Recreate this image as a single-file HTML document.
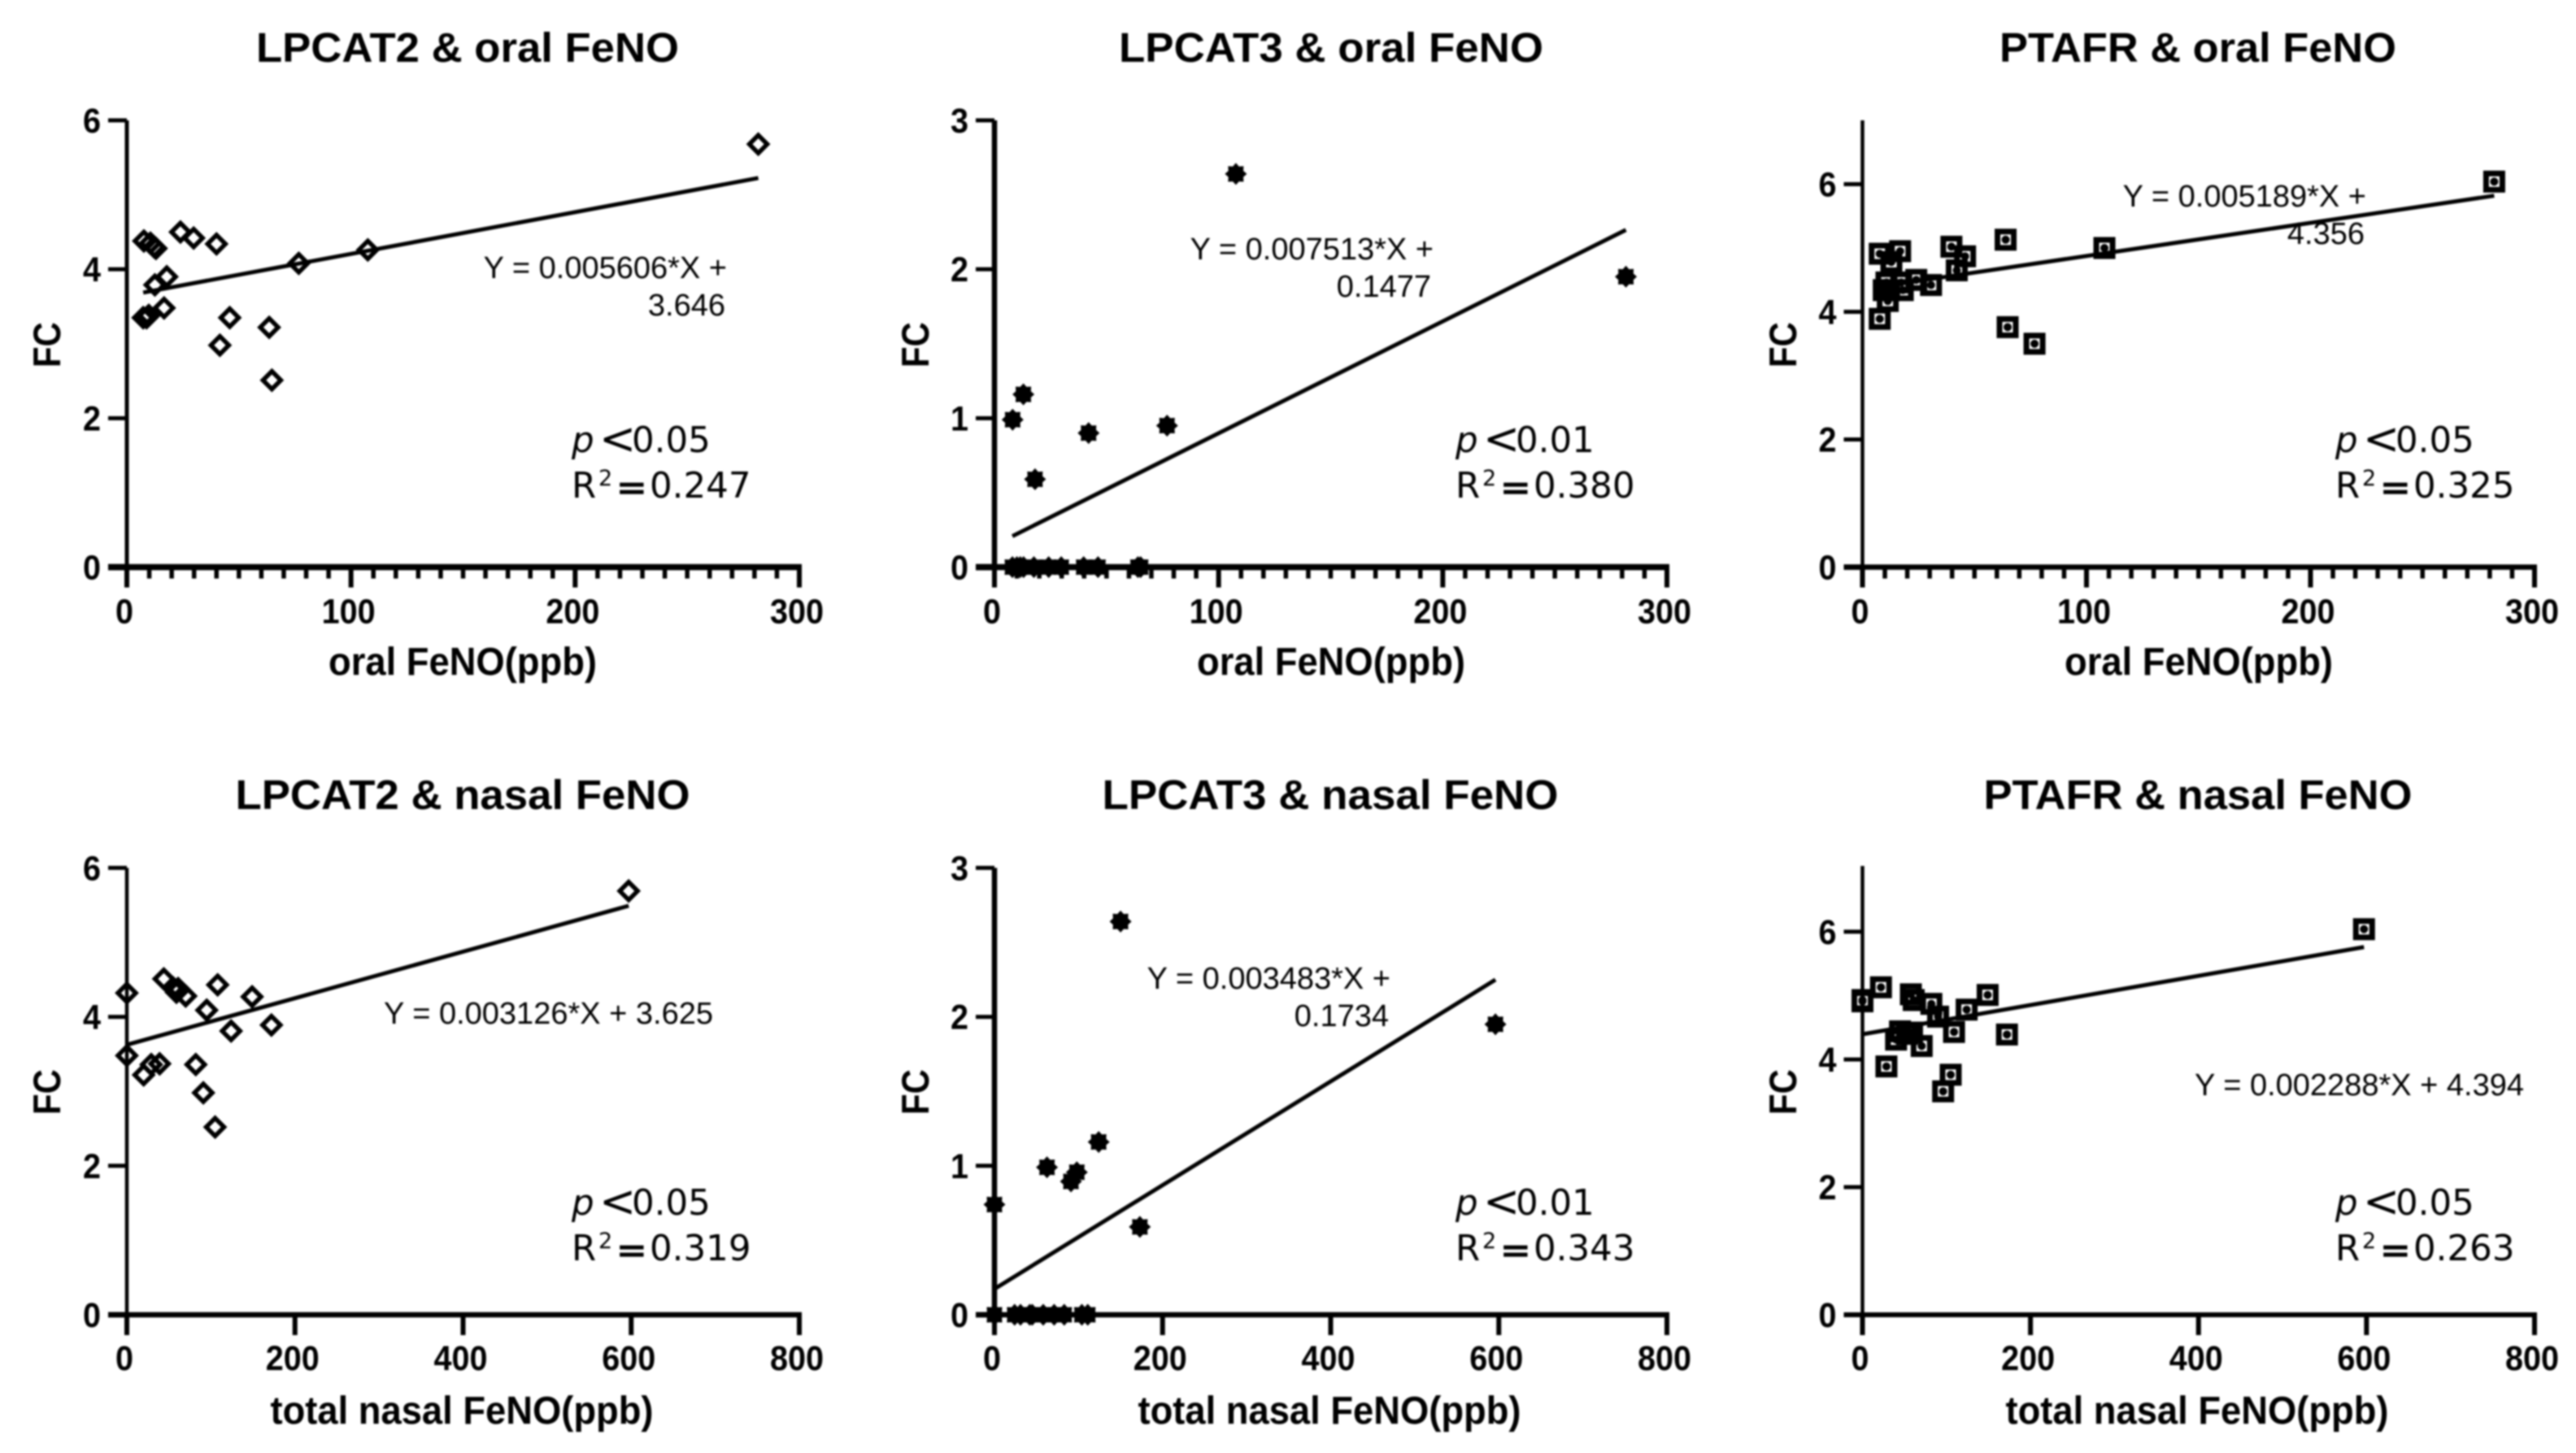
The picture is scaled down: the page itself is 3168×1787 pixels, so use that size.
<!DOCTYPE html>
<html lang="en">
<head>
<meta charset="utf-8">
<title>FC versus FeNO scatter panels</title>
<style>
html,body{margin:0;padding:0;background:#fff;width:3168px;height:1787px;overflow:hidden}
svg{display:block;filter:blur(1px)}
text{fill:#000;font-family:"Liberation Sans",sans-serif}
.title{font-size:51px;font-weight:700;text-anchor:middle}
.xt{font-size:48px;font-weight:700;text-anchor:middle}
.yt{font-size:47px;font-weight:700;text-anchor:middle}
.tick{font-size:43px;font-weight:700}
.eq{font-size:38px;text-anchor:end}
.stat{font-family:"DejaVu Sans","Noto Sans CJK JP",sans-serif;font-size:43.5px}
.stat-sup{font-size:27px}
.stat-lt{font-size:54px}
.stat-eq{font-size:45px;stroke:#000;stroke-width:1.2px}
</style>
</head>
<body>
<svg id="figure" width="3168" height="1787" viewBox="0 0 3168 1787" xmlns="http://www.w3.org/2000/svg">
<rect x="0" y="0" width="3168" height="1787" fill="#fff"/>

<g id="p1">
<text class="title" x="575" y="76" textLength="520" lengthAdjust="spacingAndGlyphs">LPCAT2 &amp; oral FeNO</text>
<text class="xt" x="569" y="830" textLength="330" lengthAdjust="spacingAndGlyphs">oral FeNO(ppb)</text>
<text class="yt" transform="translate(74 424) rotate(-90)" textLength="56" lengthAdjust="spacingAndGlyphs">FC</text>
<text class="eq"><tspan x="894" y="342">Y = 0.005606*X +</tspan><tspan x="892" y="388">3.646</tspan></text>
<text class="stat"><tspan x="703" y="556" font-style="italic">p</tspan><tspan class="stat-lt" x="737" y="558">&lt;</tspan><tspan x="777" y="556">0.05</tspan></text>
<text class="stat"><tspan x="703" y="612">R</tspan><tspan class="stat-sup" x="736" y="597">2</tspan><tspan class="stat-eq" x="758" y="615">=</tspan><tspan x="799" y="612">0.247</tspan></text>
</g>

<g id="p2">
<text class="title" x="1637" y="76" textLength="522" lengthAdjust="spacingAndGlyphs">LPCAT3 &amp; oral FeNO</text>
<text class="xt" x="1637" y="830" textLength="330" lengthAdjust="spacingAndGlyphs">oral FeNO(ppb)</text>
<text class="yt" transform="translate(1142 424) rotate(-90)" textLength="56" lengthAdjust="spacingAndGlyphs">FC</text>
<text class="eq"><tspan x="1763" y="319">Y = 0.007513*X +</tspan><tspan x="1760" y="365">0.1477</tspan></text>
<text class="stat"><tspan x="1790" y="556" font-style="italic">p</tspan><tspan class="stat-lt" x="1824" y="558">&lt;</tspan><tspan x="1864" y="556">0.01</tspan></text>
<text class="stat"><tspan x="1790" y="612">R</tspan><tspan class="stat-sup" x="1823" y="597">2</tspan><tspan class="stat-eq" x="1845" y="615">=</tspan><tspan x="1886" y="612">0.380</tspan></text>
</g>

<g id="p3">
<text class="title" x="2703" y="76" textLength="488" lengthAdjust="spacingAndGlyphs">PTAFR &amp; oral FeNO</text>
<text class="xt" x="2704" y="830" textLength="330" lengthAdjust="spacingAndGlyphs">oral FeNO(ppb)</text>
<text class="yt" transform="translate(2209 424) rotate(-90)" textLength="56" lengthAdjust="spacingAndGlyphs">FC</text>
<text class="eq"><tspan x="2910" y="254">Y = 0.005189*X +</tspan><tspan x="2908" y="300">4.356</tspan></text>
<text class="stat"><tspan x="2872" y="556" font-style="italic">p</tspan><tspan class="stat-lt" x="2906" y="558">&lt;</tspan><tspan x="2946" y="556">0.05</tspan></text>
<text class="stat"><tspan x="2872" y="612">R</tspan><tspan class="stat-sup" x="2905" y="597">2</tspan><tspan class="stat-eq" x="2927" y="615">=</tspan><tspan x="2968" y="612">0.325</tspan></text>
</g>

<g id="p4">
<text class="title" x="569" y="995" textLength="559" lengthAdjust="spacingAndGlyphs">LPCAT2 &amp; nasal FeNO</text>
<text class="xt" x="568" y="1751" textLength="471" lengthAdjust="spacingAndGlyphs">total nasal FeNO(ppb)</text>
<text class="yt" transform="translate(74 1343) rotate(-90)" textLength="56" lengthAdjust="spacingAndGlyphs">FC</text>
<text class="eq" x="877" y="1259">Y = 0.003126*X + 3.625</text>
<text class="stat"><tspan x="703" y="1494" font-style="italic">p</tspan><tspan class="stat-lt" x="737" y="1496">&lt;</tspan><tspan x="777" y="1494">0.05</tspan></text>
<text class="stat"><tspan x="703" y="1550">R</tspan><tspan class="stat-sup" x="736" y="1535">2</tspan><tspan class="stat-eq" x="758" y="1553">=</tspan><tspan x="799" y="1550">0.319</tspan></text>
</g>

<g id="p5">
<text class="title" x="1636" y="995" textLength="561" lengthAdjust="spacingAndGlyphs">LPCAT3 &amp; nasal FeNO</text>
<text class="xt" x="1635" y="1751" textLength="471" lengthAdjust="spacingAndGlyphs">total nasal FeNO(ppb)</text>
<text class="yt" transform="translate(1142 1343) rotate(-90)" textLength="56" lengthAdjust="spacingAndGlyphs">FC</text>
<text class="eq"><tspan x="1710" y="1216">Y = 0.003483*X +</tspan><tspan x="1708" y="1262">0.1734</tspan></text>
<text class="stat"><tspan x="1790" y="1494" font-style="italic">p</tspan><tspan class="stat-lt" x="1824" y="1496">&lt;</tspan><tspan x="1864" y="1494">0.01</tspan></text>
<text class="stat"><tspan x="1790" y="1550">R</tspan><tspan class="stat-sup" x="1823" y="1535">2</tspan><tspan class="stat-eq" x="1845" y="1553">=</tspan><tspan x="1886" y="1550">0.343</tspan></text>
</g>

<g id="p6">
<text class="title" x="2703" y="995" textLength="527" lengthAdjust="spacingAndGlyphs">PTAFR &amp; nasal FeNO</text>
<text class="xt" x="2702" y="1751" textLength="471" lengthAdjust="spacingAndGlyphs">total nasal FeNO(ppb)</text>
<text class="yt" transform="translate(2209 1343) rotate(-90)" textLength="56" lengthAdjust="spacingAndGlyphs">FC</text>
<text class="eq" x="3104" y="1347">Y = 0.002288*X + 4.394</text>
<text class="stat"><tspan x="2872" y="1494" font-style="italic">p</tspan><tspan class="stat-lt" x="2906" y="1496">&lt;</tspan><tspan x="2946" y="1494">0.05</tspan></text>
<text class="stat"><tspan x="2872" y="1550">R</tspan><tspan class="stat-sup" x="2905" y="1535">2</tspan><tspan class="stat-eq" x="2927" y="1553">=</tspan><tspan x="2968" y="1550">0.263</tspan></text>
</g>
</svg>

<script>
// ---- data ----
const xTicksOral = [0, 100, 200, 300];
const xTicksNasal = [0, 200, 400, 600, 800];
const yTicksLpcat2 = [0, 2, 4, 6];
const yTicksLpcat3 = [0, 1, 2, 3];
const yTicksPtafr = [0, 2, 4, 6];

const lpcat2OralX = [7.6, 10.5, 12.2, 13, 23.9, 29.8, 40, 76.7, 107.5, 281.7, 17.8, 12.5, 16.6, 7.3, 8.8, 9.8, 45.9, 41.5, 63.5, 64.7];
const lpcat2OralY = [4.38, 4.35, 4.30, 4.28, 4.50, 4.42, 4.34, 4.08, 4.26, 5.68, 3.90, 3.79, 3.48, 3.35, 3.35, 3.38, 3.35, 2.98, 3.22, 2.51];
const lpcat2OralFit = [0.005606, 3.646];

const lpcat3OralX = [8.1, 12.9, 18.1, 42, 77, 107.7, 281.7, 8, 10, 11.5, 13, 17.6, 24.2, 29.8, 39.8, 46.2, 64, 65.2];
const lpcat3OralY = [0.99, 1.16, 0.59, 0.90, 0.95, 2.64, 1.95, 0, 0, 0, 0, 0, 0, 0, 0, 0, 0, 0];
const lpcat3OralFit = [0.007513, 0.1477];

const ptafrOralX = [7.7, 16.8, 12.9, 39.7, 45.8, 42.1, 63.9, 108, 282, 7.7, 64.8, 76.8, 10.7, 17.3, 24, 30.6, 9.5, 11.9, 18, 11.3];
const ptafrOralY = [4.91, 4.95, 4.78, 5.02, 4.87, 4.65, 5.13, 5.0, 6.04, 3.89, 3.76, 3.50, 4.46, 4.46, 4.50, 4.42, 4.34, 4.34, 4.34, 4.17];
const ptafrOralFit = [0.005189, 4.356];

const lpcat2NasalX = [0, 0, 20, 29, 39, 44, 55, 59, 61, 70, 82, 91, 95, 105, 108, 124, 149, 172, 597];
const lpcat2NasalY = [4.32, 3.48, 3.22, 3.36, 3.37, 4.51, 4.39, 4.33, 4.38, 4.28, 3.36, 2.98, 4.09, 2.52, 4.43, 3.81, 4.27, 3.89, 5.69];
const lpcat2NasalFit = [0.003126, 3.625];

const lpcat3NasalX = [0, 62.5, 91, 98, 124, 150, 173, 596, 0, 24, 31, 42, 45, 58, 71, 83, 104, 111];
const lpcat3NasalY = [0.74, 0.99, 0.895, 0.957, 1.16, 2.64, 0.59, 1.95, 0, 0, 0, 0, 0, 0, 0, 0, 0, 0];
const lpcat3NasalFit = [0.003483, 0.1734];

const ptafrNasalX = [0, 0, 22, 57.6, 61, 82, 90, 109, 124, 149, 172, 44.7, 40, 59, 53, 70.5, 28.5, 105, 96, 597];
const ptafrNasalY = [4.91, 4.93, 5.13, 5.02, 4.93, 4.87, 4.67, 4.43, 4.78, 5.01, 4.39, 4.44, 4.31, 4.42, 4.40, 4.21, 3.89, 3.76, 3.50, 6.04];
const ptafrNasalFit = [0.002288, 4.394];

// ---- drawing ----
const NS = 'http://www.w3.org/2000/svg';
function make(tag, parent, attrs) {
  const el = document.createElementNS(NS, tag);
  for (const k in attrs) el.setAttribute(k, attrs[k]);
  parent.appendChild(el);
  return el;
}

function starPath(cx, cy) {
  let d = '';
  for (let i = 0; i < 16; i++) {
    const r = i % 2 ? 10 : 13.5;
    const a = Math.PI * i / 8;
    d += (i ? 'L' : 'M') + (cx + r * Math.cos(a)).toFixed(1) + ' ' + (cy + r * Math.sin(a)).toFixed(1);
  }
  return d + 'Z';
}

function drawMarker(g, kind, cx, cy) {
  if (kind === 'diamond') {
    const h = 11;
    const m = make('path', g, {d: `M${cx} ${cy - h}L${cx + h} ${cy}L${cx} ${cy + h}L${cx - h} ${cy}Z`, fill: 'none', stroke: '#000', 'stroke-width': 5.5});
    
    
  } else if (kind === 'star') {
    const m = make('path', g, {d: starPath(cx, cy), fill: '#000'});
    
    
  } else {
    const m = make('rect', g, {x: cx - 10, y: cy - 10, width: 20, height: 20, fill: 'none', stroke: '#000', 'stroke-width': 7});
    
    
    const dot = make('circle', g, {cx: cx, cy: cy, r: 5, fill: '#000'});
    
    
  }
}

function drawPanel(c) {
  const g = document.getElementById(c.id);
  const sx = v => c.x0 + (v / c.xMax) * (c.x1 - c.x0);
  const sy = v => c.y0 - (v / c.yMax) * (c.y0 - c.y1);

  c.yTicks.forEach(v => {
    const t = make('line', g, {x1: c.x0 - 23, x2: c.x0, y1: sy(v), y2: sy(v), stroke: '#000', 'stroke-width': v === 0 ? c.xw : 5});
    
    
    const l = make('text', g, {class: 'tick', x: c.x0 - 32, y: sy(v) + 15, 'text-anchor': 'end', textLength: String(v).length * 22, lengthAdjust: 'spacingAndGlyphs'});
    
    
    l.textContent = v;
  });

  if (c.minor) {
    for (let v = c.minor; v < c.xMax; v += c.minor) {
      if (c.xTicks.indexOf(v) >= 0) continue;
      const t = make('line', g, {x1: sx(v), x2: sx(v), y1: c.y0, y2: c.y0 + 14, stroke: '#000', 'stroke-width': 5.5});
      
      
    }
  }

  c.xTicks.forEach(v => {
    const t = make('line', g, {x1: sx(v), x2: sx(v), y1: c.y0, y2: c.y0 + 25, stroke: '#000', 'stroke-width': 6});
    
    
    const l = make('text', g, {class: 'tick', x: sx(v) - 3, y: c.y0 + c.xLabelDy, 'text-anchor': 'middle', textLength: String(v).length * 22, lengthAdjust: 'spacingAndGlyphs'});
    
    
    l.textContent = v;
  });

  const ya = make('line', g, {x1: c.x0, x2: c.x0, y1: c.y1 - (c.axisExtra || 0), y2: c.y0 + 3, stroke: '#000', 'stroke-width': c.yw});
  
  
  const xa = make('line', g, {x1: c.x0 - 23, x2: c.x1 + 3, y1: c.y0, y2: c.y0, stroke: '#000', 'stroke-width': c.xw});
  
  

  const lo = Math.min.apply(null, c.xs);
  const hi = Math.max.apply(null, c.xs);
  const fit = make('line', g, {
    x1: sx(lo), y1: sy(c.fit[0] * lo + c.fit[1]),
    x2: sx(hi), y2: sy(c.fit[0] * hi + c.fit[1]),
    stroke: '#000', 'stroke-width': 5
  });
  
  

  c.xs.forEach((x, i) => drawMarker(g, c.marker, sx(x), sy(c.ys[i])));
}

const topY0 = 697.5, topY1 = 148, botY0 = 1617, botY1 = 1067.4;

drawPanel({id: 'p1', x0: 156, x1: 983, y0: topY0, y1: topY1, xMax: 300, yMax: 6, xTicks: xTicksOral, yTicks: yTicksLpcat2, minor: 10, xs: lpcat2OralX, ys: lpcat2OralY, fit: lpcat2OralFit, marker: 'diamond', xw: 7.5, yw: 5, xLabelDy: 69});
drawPanel({id: 'p2', x0: 1223, x1: 2050, y0: topY0, y1: topY1, xMax: 300, yMax: 3, xTicks: xTicksOral, yTicks: yTicksLpcat3, minor: 10, xs: lpcat3OralX, ys: lpcat3OralY, fit: lpcat3OralFit, marker: 'star', xw: 7.5, yw: 6.5, xLabelDy: 69});
drawPanel({id: 'p3', x0: 2290.5, x1: 3117, y0: topY0, y1: topY1, xMax: 300, yMax: 7, xTicks: xTicksOral, yTicks: yTicksPtafr, minor: 10, xs: ptafrOralX, ys: ptafrOralY, fit: ptafrOralFit, marker: 'square', xw: 6.5, yw: 4.5, xLabelDy: 69});
drawPanel({id: 'p4', x0: 156, x1: 983, y0: botY0, y1: botY1, xMax: 800, yMax: 6, xTicks: xTicksNasal, yTicks: yTicksLpcat2, minor: 0, xs: lpcat2NasalX, ys: lpcat2NasalY, fit: lpcat2NasalFit, marker: 'diamond', xw: 6.5, yw: 4.5, xLabelDy: 68});
drawPanel({id: 'p5', x0: 1223, x1: 2050, y0: botY0, y1: botY1, xMax: 800, yMax: 3, xTicks: xTicksNasal, yTicks: yTicksLpcat3, minor: 0, xs: lpcat3NasalX, ys: lpcat3NasalY, fit: lpcat3NasalFit, marker: 'star', xw: 6.5, yw: 6.5, xLabelDy: 68});
drawPanel({id: 'p6', x0: 2290.5, x1: 3117, y0: botY0, y1: botY1, xMax: 800, yMax: 7, xTicks: xTicksNasal, yTicks: yTicksPtafr, minor: 0, xs: ptafrNasalX, ys: ptafrNasalY, fit: ptafrNasalFit, marker: 'square', xw: 6, yw: 4.5, xLabelDy: 68, axisExtra: 2.4});
</script>
</body>
</html>
